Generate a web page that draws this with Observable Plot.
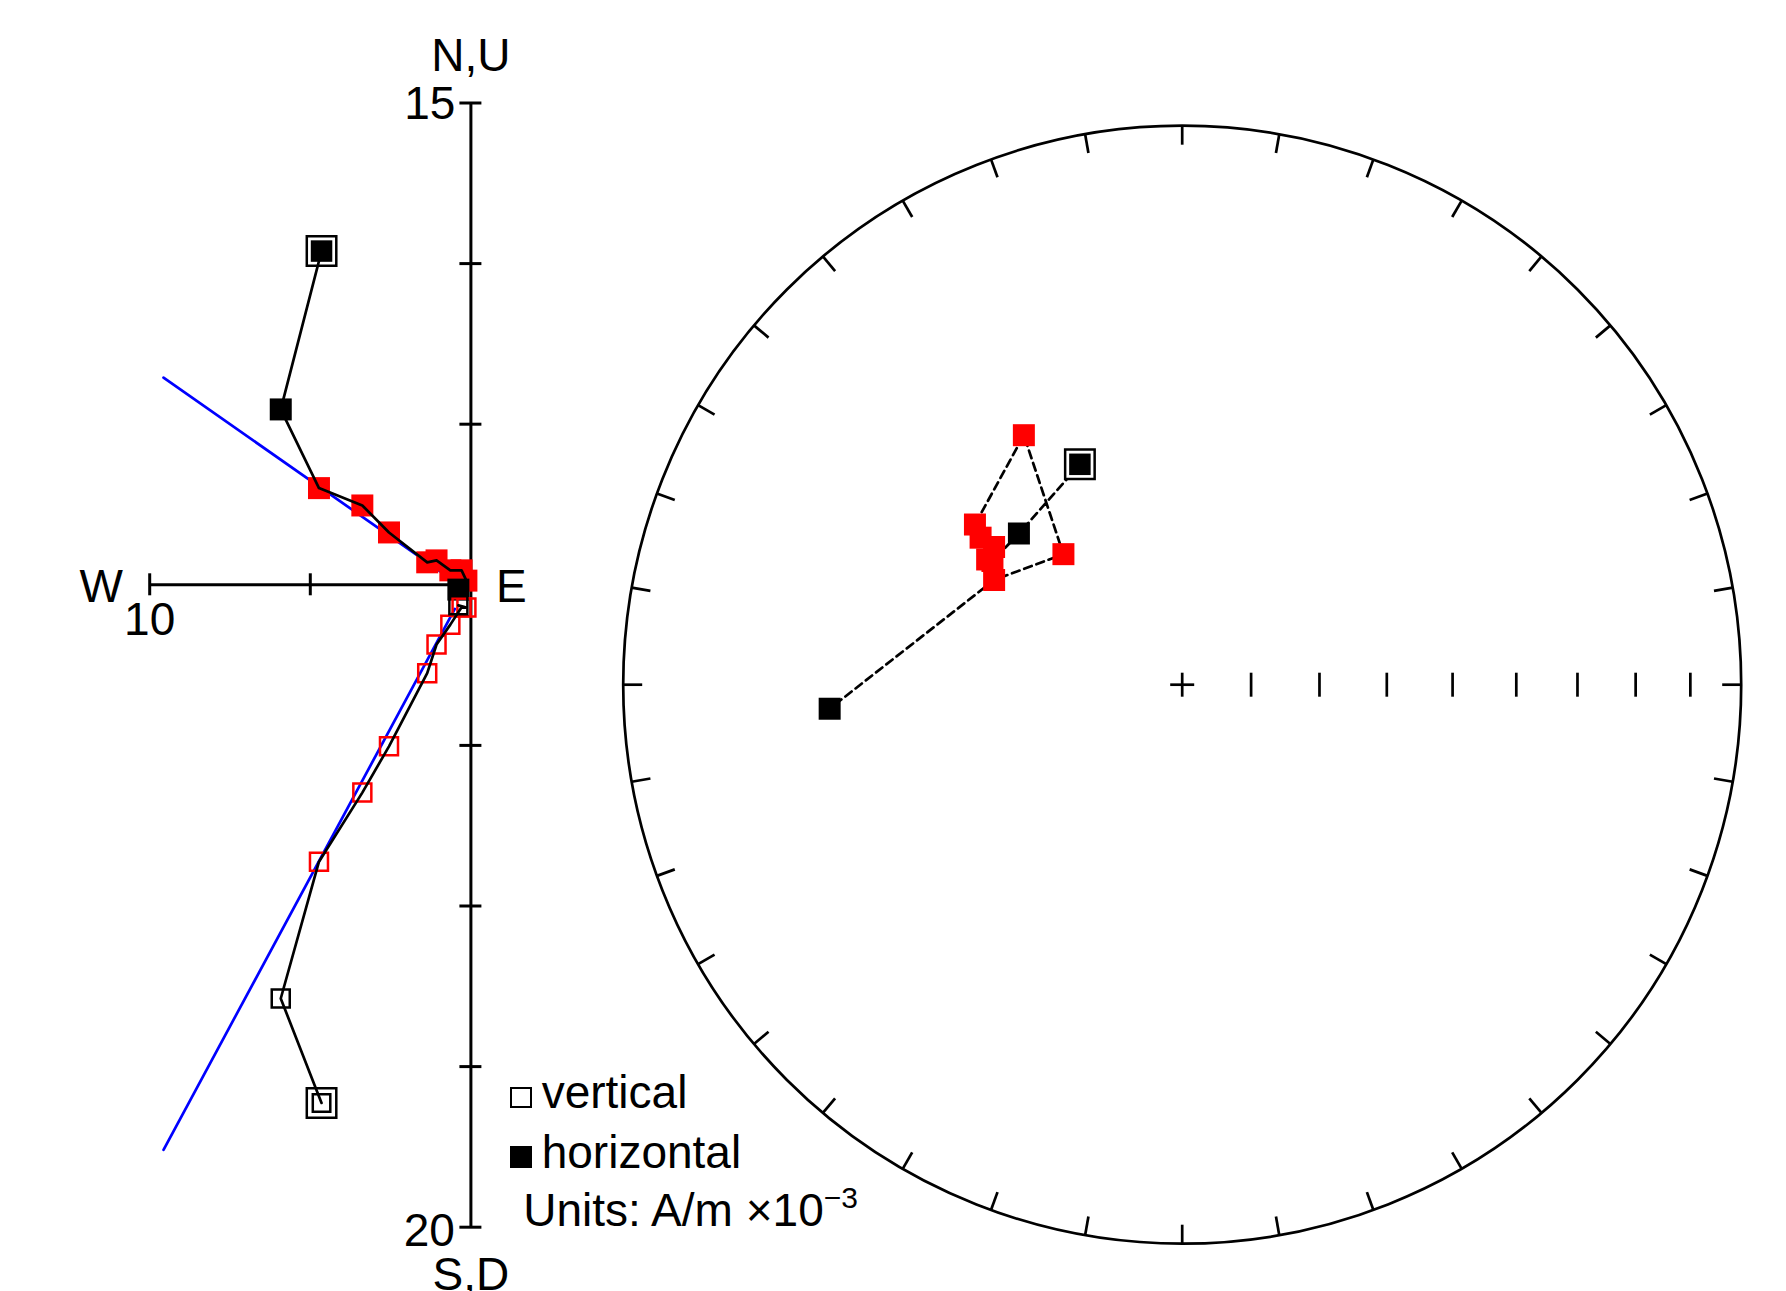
<!DOCTYPE html>
<html><head><meta charset="utf-8">
<script src="https://cdn.jsdelivr.net/npm/d3@7"></script>
<script src="https://cdn.jsdelivr.net/npm/@observablehq/plot@0.6"></script>
<style>
html,body{margin:0;padding:0;background:#fff;}
#wrap{position:relative;width:1786px;height:1291px;overflow:hidden;font-family:"Liberation Sans",Arial,sans-serif;color:#000;}
#wrap svg{position:absolute;left:0;top:0;}
.lg{position:absolute;font-size:46px;line-height:46px;white-space:nowrap;}
.sq{position:absolute;box-sizing:border-box;width:21.7px;height:21.7px;}
</style></head><body><div id="wrap"></div>
<script>
// ---------- Data (A/m x10^-3) ----------
const steps      = [1, 2, 3, 4, 5, 6, 7, 8, 9, 10, 11];
const zEast      = [-4.65, -5.92, -4.73, -3.38, -2.55, -1.36, -1.07, -0.64, -0.29, -0.14, -0.39];
const zNorth     = [10.39, 5.46, 3.01, 2.47, 1.63, 0.70, 0.76, 0.45, 0.45, 0.13, -0.15];
const zUp        = [-16.13, -12.88, -8.62, -6.47, -5.03, -2.75, -1.86, -1.24, -0.70, -0.71, -0.64];
const stepColor  = ["black", "black", "red", "red", "red", "red", "red", "red", "red", "red", "black"];

// PCA fit lines (end points)
const fitEast  = [-9.57, -0.50];
const fitNorth = [6.45, 0.10];
const fitUp    = [-17.59, -0.75];

// Zijderveld axis ticks and labels
const upTicks   = [5, 10, 15];
const downTicks = [-5, -10, -15, -20];
const westTicks = [-5, -10];
const upLabel = "15", downLabel = "20", westLabel = "10";
const axisNames = ["N,U", "S,D", "W", "E"];

// Stereonet (equal-area) directions per step
const stereoDec = [335.1, 312.8, 303.1, 302.7, 306.2, 306.1, 307.7, 327.6, 317.7, 299.1, 266.1];
const stereoInc = [54.2, 57.3, 56.7, 55.9, 55.7, 53.2, 51.3, 46.1, 64.2, 58.4, 36.9];
const rimTicks  = [0,10,20,30,40,50,60,70,80,90,100,110,120,130,140,150,160,170,180,190,200,210,220,230,240,250,260,270,280,290,300,310,320,330,340,350];
const incTicks  = [80, 70, 60, 50, 40, 30, 20, 10];

// ---------- Build ----------
const rSide = s => s / Math.sqrt(Math.PI); // Plot square symbol side -> r
const FONT = '"Liberation Sans", Arial, sans-serif';
const wrap = document.getElementById("wrap");

const Z = steps.map((s, i) => ({step: s, e: zEast[i], n: zNorth[i], u: zUp[i], color: stepColor[i]}));
const fitH = fitEast.map((e, i) => ({e, n: fitNorth[i]}));
const fitV = fitEast.map((e, i) => ({e, u: fitUp[i]}));

const unitPx = 32.12;
const th = 11 / unitPx; // tick half-length in data units

const zij = Plot.plot({
  width: 1786, height: 1291, margin: 0,
  x: {domain: [-10, 0], range: [149.2, 470.4], axis: null},
  y: {domain: [-20, 15], range: [1226.7, 102.5], axis: null},
  color: {type: "identity"},
  style: {background: "transparent", fontFamily: FONT},
  marks: [
    Plot.ruleX([0], {x: d => d, y1: () => -20, y2: () => 15, stroke: "black", strokeWidth: 3}),
    Plot.ruleY([0], {y: d => d, x1: () => -10, x2: () => 0, stroke: "black", strokeWidth: 3}),
    Plot.ruleY([...upTicks, ...downTicks], {y: d => d, x1: () => -th, x2: () => th, stroke: "black", strokeWidth: 3}),
    Plot.ruleX(westTicks, {x: d => d, y1: () => -th, y2: () => th, stroke: "black", strokeWidth: 3}),
    Plot.line(fitH, {x: "e", y: "n", stroke: "#0000ff", strokeWidth: 2.7}),
    Plot.line(fitV, {x: "e", y: "u", stroke: "#0000ff", strokeWidth: 2.7}),
    // horizontal projection (filled)
    Plot.dot(Z.slice(1), {x: "e", y: "n", symbol: "square", r: rSide(22), fill: "color", stroke: "none"}),
    Plot.dot(Z.slice(0, 1), {x: "e", y: "n", symbol: "square", r: rSide(29.5), fill: "white", stroke: "black", strokeWidth: 2.5}),
    Plot.dot(Z.slice(0, 1), {x: "e", y: "n", symbol: "square", r: rSide(21.5), fill: "black", stroke: "none"}),
    // vertical projection (open)
    Plot.dot(Z.slice(1), {x: "e", y: "u", symbol: "square", r: rSide(18), fill: "none", stroke: "color", strokeWidth: 2.5}),
    Plot.dot(Z.slice(0, 1), {x: "e", y: "u", symbol: "square", r: rSide(29.5), fill: "white", stroke: "black", strokeWidth: 2.5}),
    Plot.dot(Z.slice(0, 1), {x: "e", y: "u", symbol: "square", r: rSide(17.5), fill: "none", stroke: "black", strokeWidth: 2.5}),
    // demagnetisation paths
    Plot.line(Z, {x: "e", y: "n", stroke: "black", strokeWidth: 2.7}),
    Plot.line(Z, {x: "e", y: "u", stroke: "black", strokeWidth: 2.7}),
    // labels
    Plot.text([axisNames[0]], {x: () => 0, y: () => 15, text: d => d, lineAnchor: "bottom", dy: -32.5, fontSize: 46, fill: "black"}),
    Plot.text([axisNames[1]], {x: () => 0, y: () => -20, text: d => d, lineAnchor: "bottom", dy: 63, fontSize: 46, fill: "black"}),
    Plot.text([upLabel], {x: () => 0, y: () => 15, text: d => d, textAnchor: "end", lineAnchor: "bottom", dx: -15.5, dy: 15.7, fontSize: 46, fill: "black"}),
    Plot.text([downLabel], {x: () => 0, y: () => -20, text: d => d, textAnchor: "end", lineAnchor: "bottom", dx: -16, dy: 18.3, fontSize: 46, fill: "black"}),
    Plot.text([axisNames[2]], {x: () => -10, y: () => 0, text: d => d, textAnchor: "end", lineAnchor: "bottom", dx: -26.7, dy: 16.7, fontSize: 46, fill: "black"}),
    Plot.text([westLabel], {x: () => -10, y: () => 0, text: d => d, lineAnchor: "bottom", dy: 49.7, fontSize: 46, fill: "black"}),
    Plot.text([axisNames[3]], {x: () => 0, y: () => 0, text: d => d, textAnchor: "start", lineAnchor: "bottom", dx: 25.2, dy: 16.7, fontSize: 46, fill: "black"})
  ]
});
wrap.appendChild(zij);

// ---------- Stereonet ----------
function eqArea(dec, inc) {
  const r = Math.SQRT2 * Math.sin((90 - inc) / 2 * Math.PI / 180);
  const a = dec * Math.PI / 180;
  return [r * Math.sin(a), r * Math.cos(a)];
}
const cx = 1181.7, cy = 684.2, R = 559;
const S = steps.map((s, i) => {
  const [x, y] = eqArea(stereoDec[i], stereoInc[i]);
  return {step: s, x, y, color: stepColor[i]};
});
const rimIn = 1 - 19 / R;
const h = 12 / R;
const rad = d => d * Math.PI / 180;

const net = Plot.plot({
  width: 1786, height: 1291, margin: 0,
  x: {domain: [-1, 1], range: [cx - R, cx + R], axis: null},
  y: {domain: [-1, 1], range: [cy + R, cy - R], axis: null},
  color: {type: "identity"},
  style: {background: "transparent"},
  marks: [
    Plot.dot([0], {x: () => 0, y: () => 0, r: R, fill: "none", stroke: "black", strokeWidth: 2.7}),
    Plot.link(rimTicks, {x1: d => Math.sin(rad(d)), y1: d => Math.cos(rad(d)), x2: d => rimIn * Math.sin(rad(d)), y2: d => rimIn * Math.cos(rad(d)), stroke: "black", strokeWidth: 2.7}),
    Plot.link(incTicks, {x1: d => eqArea(90, d)[0], x2: d => eqArea(90, d)[0], y1: () => -h, y2: () => h, stroke: "black", strokeWidth: 2.7}),
    Plot.link([0], {x1: () => -h, x2: () => h, y1: () => 0, y2: () => 0, stroke: "black", strokeWidth: 2.7}),
    Plot.link([0], {x1: () => 0, x2: () => 0, y1: () => -h, y2: () => h, stroke: "black", strokeWidth: 2.7}),
    Plot.line(S, {x: "x", y: "y", stroke: "black", strokeWidth: 2.7, strokeDasharray: "8,5"}),
    Plot.dot(S.slice(1), {x: "x", y: "y", symbol: "square", r: rSide(22), fill: "color", stroke: "none"}),
    Plot.dot(S.slice(0, 1), {x: "x", y: "y", symbol: "square", r: rSide(29.5), fill: "white", stroke: "black", strokeWidth: 2.5}),
    Plot.dot(S.slice(0, 1), {x: "x", y: "y", symbol: "square", r: rSide(21.5), fill: "black", stroke: "none"})
  ]
});
wrap.appendChild(net);

// ---------- Legend ----------
const legend = [
  {label: "vertical", filled: false, sqTop: 1086.7, textTop: 1068.8},
  {label: "horizontal", filled: true, sqTop: 1146.0, textTop: 1128.8}
];
legend.forEach(d => {
  const sq = document.createElement("div");
  sq.className = "sq";
  sq.style.left = "510px";
  sq.style.top = d.sqTop + "px";
  if (d.filled) sq.style.background = "#000";
  else sq.style.border = "2.6px solid #000";
  wrap.appendChild(sq);
  const t = document.createElement("div");
  t.className = "lg";
  t.style.left = "541.7px";
  t.style.top = d.textTop + "px";
  t.textContent = d.label;
  wrap.appendChild(t);
});
const units = document.createElement("div");
units.className = "lg";
units.style.left = "523.3px";
units.style.top = "1186.8px";
units.innerHTML = 'Units: A/m ×10<span style="font-size:30px;position:relative;top:-17.7px;">−3</span>';
wrap.appendChild(units);
</script>
</body></html>
